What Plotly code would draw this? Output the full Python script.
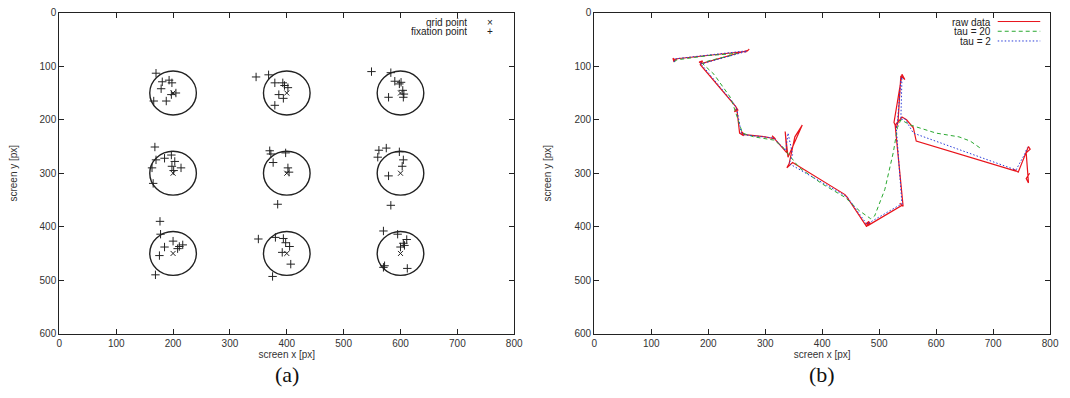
import plotly.graph_objects as go

W, H = 1070, 398

# ---- panel (a): calibration grid and fixations ----
grid_x = [200, 400, 600, 200, 400, 600, 200, 400, 600]
grid_y = [150, 150, 150, 300, 300, 300, 450, 450, 450]
grid_radius = 41

fix_x = [170, 181, 193, 198, 179, 197, 205, 166, 188,
         346, 368, 379, 393, 396, 402, 386, 394, 379,
         549, 583, 590, 598, 601, 604, 606, 579, 605,
         168, 170, 185, 197, 203, 198, 201, 214, 163, 165,
         370, 372, 376, 398, 402, 404, 384,
         562, 575, 560, 598, 605, 603, 579, 583,
         177, 178, 185, 200, 176, 208, 211, 217, 169,
         350, 380, 394, 398, 405, 392, 407, 375,
         570, 595, 611, 605, 607, 600, 572, 570, 612]
fix_y = [113, 129, 126, 131, 142, 153, 150, 165, 165,
         120, 116, 131, 131, 136, 140, 153, 160, 173,
         110, 112, 128, 133, 130, 145, 152, 158, 158,
         251, 275, 272, 266, 278, 287, 295, 290, 290, 319,
         258, 264, 280, 262, 290, 298, 358,
         257, 253, 270, 260, 275, 287, 305, 360,
         390, 414, 438, 427, 454, 441, 437, 434, 490,
         423, 420, 422, 430, 437, 448, 470, 493,
         408, 414, 424, 431, 435, 438, 473, 476, 478]

# ---- panel (b): gaze trajectory, raw and filtered ----
raw_x = [140, 138, 142, 140, 145, 268, 272, 265, 270, 188, 184, 190, 186,
         248, 252, 246, 250, 255, 262, 258, 264, 300, 318, 312,
         338, 335, 340, 345, 365, 352, 342, 338, 348,
         440, 446, 443, 478, 482, 475, 484, 480, 540, 536, 542,
         528, 534, 530, 526, 540, 545, 538, 533, 540, 548, 560, 565,
         740, 735, 744, 762, 765, 758, 762, 758, 764]
raw_y = [92, 85, 88, 90, 86, 72, 68, 74, 70, 95, 92, 90, 97,
         175, 182, 185, 178, 225, 230, 222, 228, 232, 236, 230,
         262, 222, 270, 258, 210, 232, 282, 290, 280,
         340, 348, 344, 400, 390, 396, 392, 398, 360, 356, 362,
         210, 202, 215, 205, 115, 125, 118, 205, 195, 200, 215, 240,
         296, 292, 298, 250, 255, 262, 318, 310, 300]

tau20_x = [140, 145, 200, 250, 240, 200, 190, 210, 240, 252, 260, 280, 315,
           330, 340, 345, 360, 400, 440, 465, 485, 492, 510, 525, 532, 538,
           555, 600, 640, 660, 680]
tau20_y = [92, 88, 80, 76, 80, 90, 95, 115, 160, 200, 225, 232, 238,
           250, 262, 270, 290, 320, 345, 370, 385, 380, 330, 260, 215, 200,
           210, 225, 232, 240, 255]

tau2_x = [140, 142, 260, 268, 190, 186, 245, 250, 258, 262, 305, 315, 336, 340,
          348, 342, 440, 445, 478, 482, 535, 540, 530, 532, 538, 540, 538, 545,
          560, 730, 740, 755, 760]
tau2_y = [92, 86, 72, 72, 95, 94, 170, 180, 225, 228, 233, 234, 258, 225,
          265, 282, 342, 346, 395, 393, 360, 358, 215, 205, 125, 120, 200, 198,
          225, 290, 294, 265, 252]

x_ticks = [0, 100, 200, 300, 400, 500, 600, 700, 800]
y_ticks = [0, 100, 200, 300, 400, 500, 600]

INK = "#222222"
FONT = "Liberation Sans Narrow, Liberation Sans, Arial, sans-serif"
RED, GREEN, BLUE = "#e8141c", "#2aa830", "#2a3cd8"
DASH20, DASH2 = "4px,3px", "1.5px,2px"

fig = go.Figure()

fig.add_trace(go.Scatter(
    x=fix_x, y=fix_y, mode="markers", name="fixation point",
    marker=dict(symbol="cross-thin", size=6, line=dict(width=1, color=INK)),
    xaxis="x", yaxis="y", showlegend=False))
fig.add_trace(go.Scatter(
    x=grid_x, y=grid_y, mode="markers", name="grid point",
    marker=dict(symbol="x-thin", size=5, line=dict(width=1, color=INK)),
    xaxis="x", yaxis="y", showlegend=False))

fig.add_trace(go.Scatter(
    x=raw_x, y=raw_y, mode="lines", name="raw data",
    line=dict(color=RED, width=1.2),
    xaxis="x2", yaxis="y2", showlegend=False))
fig.add_trace(go.Scatter(
    x=tau20_x, y=tau20_y, mode="lines", name="tau = 20",
    line=dict(color=GREEN, width=1, dash=DASH20),
    xaxis="x2", yaxis="y2", showlegend=False))
fig.add_trace(go.Scatter(
    x=tau2_x, y=tau2_y, mode="lines", name="tau = 2",
    line=dict(color=BLUE, width=1, dash=DASH2),
    xaxis="x2", yaxis="y2", showlegend=False))

shapes = []
for gx, gy in zip(grid_x, grid_y):
    shapes.append(dict(type="circle", xref="x", yref="y",
                       x0=gx - grid_radius, x1=gx + grid_radius,
                       y0=gy - grid_radius, y1=gy + grid_radius,
                       line=dict(color=INK, width=1.4)))

def px_x(p):
    return p / W

def px_y(p):
    return 1 - p / H

label_font = dict(family=FONT, size=10, color=INK)

# legend keys for panel (b)
legend_b = [("raw data", RED, "solid"),
            ("tau = 20", GREEN, DASH20),
            ("tau = 2", BLUE, DASH2)]
annotations = []
for i, (label, color, dash) in enumerate(legend_b):
    yy = 17 + 10 * i
    shapes.append(dict(type="line", xref="paper", yref="paper",
                       x0=px_x(1006), x1=px_x(1049), y0=px_y(yy), y1=px_y(yy),
                       line=dict(color=color, width=1, dash=dash)))
    annotations.append(dict(text=label, xref="paper", yref="paper",
                            x=px_x(1001), y=px_y(yy), xanchor="right", yanchor="middle",
                            height=10, showarrow=False, font=label_font))

legend_a = [("grid point", "×"), ("fixation point", "+")]
for i, (label, sym) in enumerate(legend_a):
    yy = 17 + 10 * i
    annotations.append(dict(text=label, xref="paper", yref="paper",
                            x=px_x(471), y=px_y(yy), xanchor="right", yanchor="middle",
                            height=10, showarrow=False, font=label_font))
    annotations.append(dict(text=sym, xref="paper", yref="paper",
                            x=px_x(493), y=px_y(yy), xanchor="center", yanchor="middle",
                            height=10, showarrow=False, font=label_font))

for label, cx in [("(a)", 287), ("(b)", 828)]:
    annotations.append(dict(text=label, xref="paper", yref="paper",
                            x=px_x(cx), y=px_y(380), xanchor="center", yanchor="middle",
                            showarrow=False,
                            font=dict(family="Liberation Serif, DejaVu Serif, serif",
                                      size=22, color="#111111")))

axis_common = dict(
    showgrid=False, zeroline=False, showline=True, linecolor=INK, linewidth=1.2,
    mirror="ticks", ticks="inside", ticklen=5, tickwidth=1, tickcolor=INK,
    tickfont=dict(family=FONT, size=10, color="#333333"),
)

title_font = dict(family=FONT, size=10, color="#333333")
xa = dict(axis_common, range=[0, 800], tickvals=x_ticks,
          title=dict(text="screen x [px]", font=title_font, standoff=3))
ya = dict(axis_common, range=[600, 0], tickvals=y_ticks,
          title=dict(text="screen y [px]", font=title_font, standoff=20))

fig.update_layout(
    width=W, height=H,
    margin=dict(l=0, r=0, t=0, b=0),
    paper_bgcolor="white", plot_bgcolor="white",
    showlegend=False,
    xaxis=dict(xa, domain=[px_x(57), px_x(517)], anchor="y"),
    yaxis=dict(ya, domain=[px_y(338), px_y(8)], anchor="x"),
    xaxis2=dict(xa, domain=[px_x(598), px_x(1059)], anchor="y2"),
    yaxis2=dict(ya, domain=[px_y(338), px_y(8)], anchor="x2"),
    shapes=shapes,
    annotations=annotations,
)

fig.write_html("out.html")
